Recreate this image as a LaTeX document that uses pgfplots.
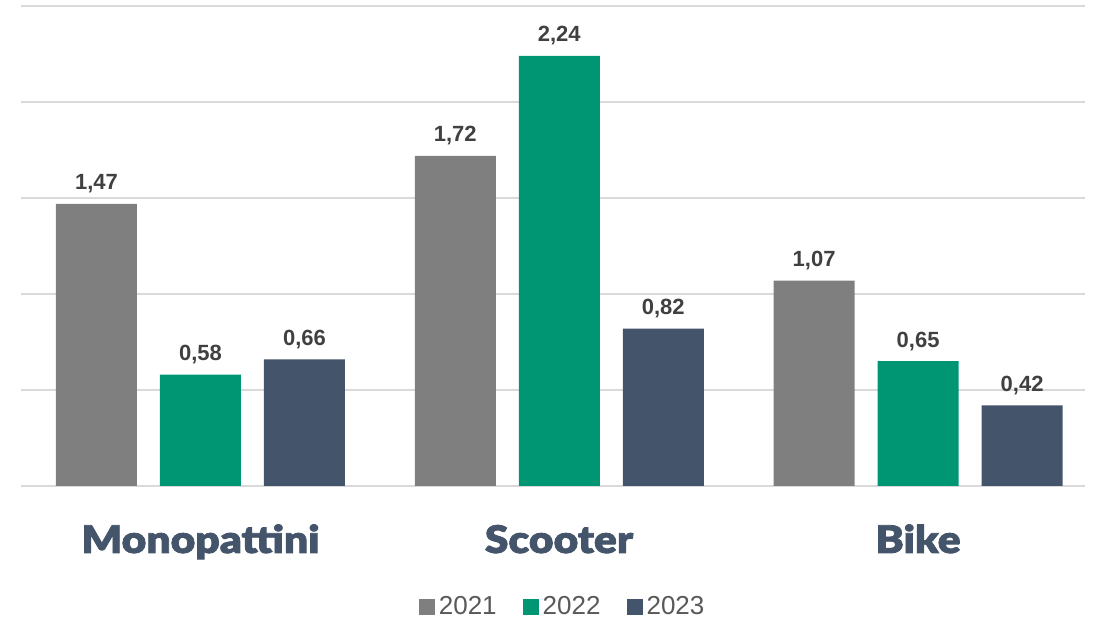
\documentclass[border=0pt]{standalone}
\usepackage{pgfplots}
\pgfplotsset{compat=1.18}
\usepackage{fontspec}
\setmainfont{Liberation Sans}
\newfontfamily\catfont{Lato Black}[FakeBold=2, FakeStretch=1.12]

\definecolor{c21}{HTML}{7F7F7F}
\definecolor{c22}{HTML}{009673}
\definecolor{c23}{HTML}{44546A}
\definecolor{gridc}{HTML}{D9D9D9}
\definecolor{lblc}{HTML}{404040}
\definecolor{legc}{HTML}{595959}

\begin{document}
\begin{tikzpicture}
\begin{axis}[
    scale only axis,
    width=532pt, height=240pt,
    ybar=11.5pt, bar width=40.5pt,
    xmin=-0.5, xmax=2.465,
    ymin=0, ymax=2.5,
    axis line style={draw=none},
    tick style={draw=none},
    ymajorgrids=true,
    ytick={0,0.5,1,1.5,2,2.5},
    grid style={gridc, line width=0.75pt},
    xtick={0,1,2},
    xticklabels={},
    yticklabels={},
    nodes near coords,
    every node near coord/.append style={font=\bfseries\fontsize{11}{13}\selectfont, text=lblc, anchor=base, yshift=7pt},
    /pgf/number format/.cd, use comma, fixed, fixed zerofill, precision=2, assume math mode=true,
    /pgfplots/.cd,
    legend columns=3,
    legend style={at={(0.51,0)}, anchor=center, yshift=-60.5pt, draw=none,
        font=\fontsize{13}{15}\selectfont, text=legc,
        /tikz/every even column/.append style={column sep=11pt}},
    legend image code/.code={\fill[#1] (-1pt,-4pt) rectangle (7pt,4pt);},
]
\addplot[fill=c21, draw=none] coordinates {(0,1.47) (1,1.72) (2,1.07)};
\addplot[fill=c22, draw=none] coordinates {(0,0.58) (1,2.24) (2,0.65)};
\addplot[fill=c23, draw=none] coordinates {(0,0.66) (1,0.82) (2,0.42)};
\legend{2021,2022,2023}
\end{axis}
\node[font=\catfont\fontsize{19}{21}\selectfont, text=c23, anchor=base] at (89.75pt,-33.5pt) {Monopattini};
\node[font=\catfont\fontsize{19}{21}\selectfont, text=c23, anchor=base] at (269pt,-33.5pt) {Scooter};
\node[font=\catfont\fontsize{19}{21}\selectfont, text=c23, anchor=base] at (448.5pt,-33.5pt) {Bike};
\pgfresetboundingbox
\path[use as bounding box] (-10.5pt,-66.5pt) rectangle (540.5pt,243pt);
\end{tikzpicture}
\end{document}
